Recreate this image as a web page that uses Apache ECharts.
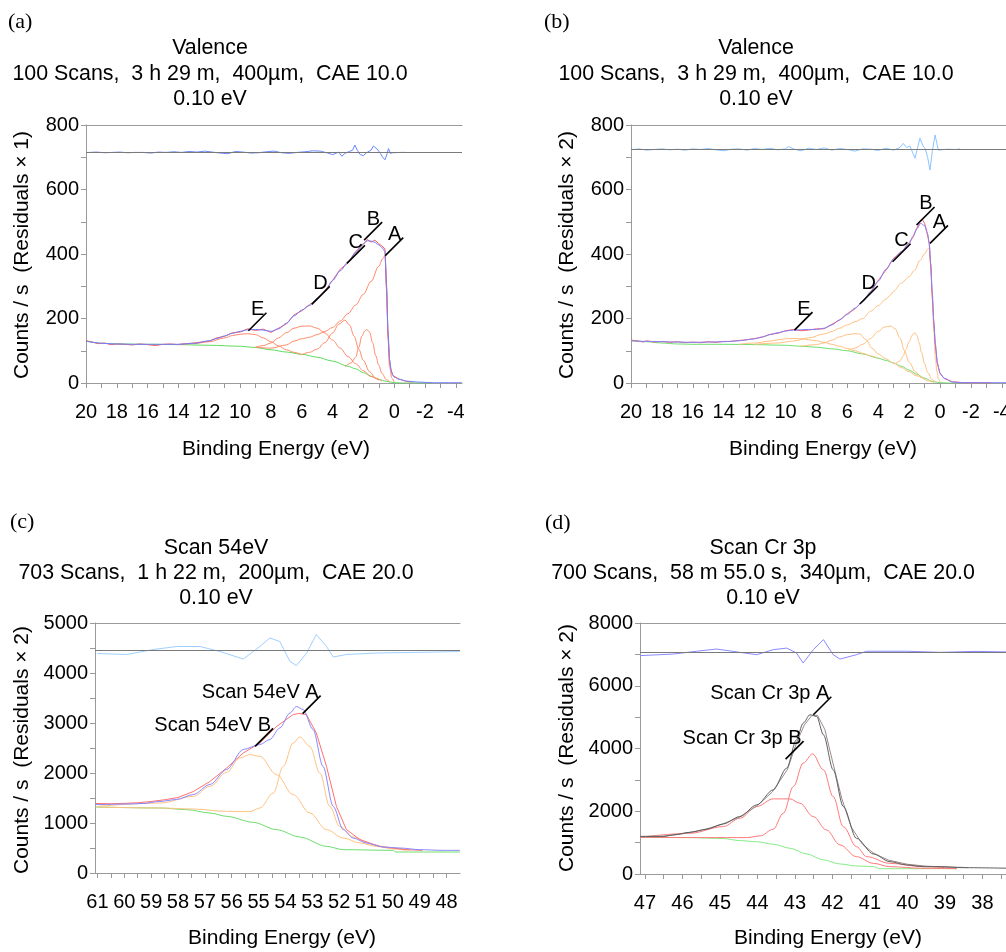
<!DOCTYPE html>
<html><head><meta charset="utf-8">
<script src="https://cdn.jsdelivr.net/npm/echarts@6/dist/echarts.min.js"></script>
<style>html,body{margin:0;padding:0;background:#fff}#c{width:1006px;height:952px}</style>
</head><body><div id="c"></div>
<script>
// ---------- tick values / labels ----------
const abTickValues = [20,19,18,17,16,15,14,13,12,11,10,9,8,7,6,5,4,3,2,1,0,-1,-2,-3,-4];
const abTickLabels = [20,18,16,14,12,10,8,6,4,2,0,-2,-4];
const cTickValues = [61,60.5,60,59.5,59,58.5,58,57.5,57,56.5,56,55.5,55,54.5,54,53.5,53,52.5,52,51.5,51,50.5,50,49.5,49,48.5,48];
const cTickLabels = [61,60,59,58,57,56,55,54,53,52,51,50,49,48];
const dTickValues = [47,46.5,46,45.5,45,44.5,44,43.5,43,42.5,42,41.5,41,40.5,40,39.5,39,38.5,38,37.5];
const dTickLabels = [47,46,45,44,43,42,41,40,39,38];

// ---------- panel (a) ----------
const aEnvelope = [[20,130],[19.5,126],[19,123],[18,121],[17,120],[16,120],[15,120],[14,120],[13,123],[12,131],[11.5,138],[11,146],[10.5,154],[10,160],[9.5,165],[9,166],[8.5,164],[8,160],[7.5,168],[7,185],[6.5,208],[6,226],[5.5,240],[5,262],[4.5,283],[4,318],[3.5,348],[3,375],[2.5,405],[2,432],[1.75,441],[1.5,440],[1.25,436],[1,428],[0.8,420],[0.6,408],[0.5,300],[0.4,160],[0.3,72],[0.2,40],[0.1,25],[0,18],[-0.3,12],[-0.8,6],[-1.5,3],[-2.5,1],[-4.4,1]];
const aData = [[20,131],[19.6,127],[19.2,122],[18.8,124],[18.4,119],[18,121],[17.5,120],[17,118],[16.5,121],[16,119],[15.5,116],[15,120],[14.5,121],[14,119],[13.5,122],[13,124],[12.5,127],[12,130],[11.5,140],[11,145],[10.5,156],[10,158],[9.5,168],[9,163],[8.5,167],[8,157],[7.5,170],[7,183],[6.5,211],[6,224],[5.5,243],[5,258],[4.5,286],[4,318],[3.5,353],[3,372],[2.5,408],[2,430],[1.75,445],[1.5,437],[1.25,443],[1,432],[0.8,425],[0.6,416],[0.5,310],[0.4,150],[0.3,68],[0.2,40],[0.1,24],[0,18],[-0.3,12],[-0.8,5],[-1.2,3]];
const aBackground = [[20,130],[19,123],[18,121],[16,120],[14,119],[12,117],[10,114],[9,110],[8,103],[7,96],[6,89],[5,80],[4,68],[3,52],[2.5,44],[2,32],[1.5,21],[1,11],[0.5,5],[0,1],[-0.5,0],[-2.4,0]];
const aCompA = [[9,111],[8,108],[7,118],[6.5,130],[6,137],[5.5,142],[5,150],[4.5,160],[4,172],[3.5,192],[3,215],[2.5,242],[2,275],[1.5,315],[1,362],[0.75,385],[0.6,395],[0.5,290],[0.4,140],[0.3,50],[0.15,15],[0,3]];
const aCompB = [[3.2,50],[2.8,62],[2.5,80],[2.3,110],[2.1,145],[1.9,162],[1.78,166],[1.6,158],[1.4,125],[1.2,85],[1,55],[0.8,30],[0.5,10],[0.3,4]];
const aCompC = [[6,88],[5.5,95],[5,105],[4.5,125],[4,155],[3.6,182],[3.2,195],[2.9,180],[2.6,145],[2.3,105],[2,70],[1.6,35],[1.2,15],[0.8,6]];
const aCompD = [[9,111],[8.5,116],[8,124],[7.5,140],[7,156],[6.5,170],[6,176],[5.5,177],[5,170],[4.5,155],[4,133],[3.5,108],[3,82],[2.5,60],[2,38],[1.5,20],[1,9]];
const aCompE = [[14,120],[13,122],[12,128],[11,140],[10.5,147],[10,151],[9.5,153],[9,150],[8.5,140],[8,128],[7.5,115],[7,103],[6.5,95],[6,88]];
const aResidual = [[19.8,715],[19.3,716],[18.8,714],[18.3,715],[17.8,716],[17.3,714],[16.8,715],[16.3,715],[15.8,713],[15.3,716],[14.8,715],[14.3,717],[13.8,715],[13.3,718],[12.8,716],[12.3,719],[11.8,716],[11.3,713],[10.8,711],[10.3,718],[9.8,716],[9.3,713],[8.8,714],[8.3,717],[7.8,719],[7.3,714],[6.8,712],[6.3,715],[5.8,717],[5.3,720],[4.8,719],[4.3,713],[4.0,708],[3.6,716],[3.4,703],[3.2,712],[2.9,718],[2.7,722],[2.55,738],[2.4,722],[2.2,708],[2.0,705],[1.8,714],[1.5,722],[1.35,735],[1.23,740],[1.1,725],[0.9,712],[0.75,700],[0.6,692],[0.45,712],[0.37,727],[0.25,712],[0.1,714],[-0.4,715],[-0.8,715]];
const aResidualZero = 714;
const aLabels = [['A',0.58,395],['B',1.95,443],['C',3.07,371],['D',5.35,244],['E',9.46,162]];

// ---------- panel (b) ----------
const bEnvelope = [[20,131],[19,129],[18,128],[17,127],[16,126],[15,127],[14,128],[13,131],[12,137],[11.5,143],[11,150],[10.5,156],[10,161],[9.5,164],[9,165],[8.5,166],[8,166],[7.5,170],[7,180],[6.5,196],[6,213],[5.5,232],[5,252],[4.5,283],[4,316],[3.5,352],[3,385],[2.5,408],[2,432],[1.75,455],[1.5,478],[1.25,495],[1,488],[0.8,462],[0.7,435],[0.6,370],[0.5,279],[0.4,190],[0.3,120],[0.17,62],[0,30],[-0.27,15],[-0.8,3],[-1.5,1],[-4.4,1]];
const bData = [[20,133],[19.5,130],[19.2,127],[19,131],[18.5,127],[18,129],[17.5,126],[17,128],[16.5,125],[16,127],[15.5,125],[15,128],[14.5,126],[14,129],[13.5,129],[13,132],[12.5,134],[12,138],[11.5,142],[11,151],[10.5,154],[10,162],[9.5,166],[9,162],[8.5,164],[8,168],[7.5,168],[7,182],[6.5,195],[6,215],[5.5,230],[5,254],[4.5,281],[4,318],[3.5,350],[3,387],[2.5,406],[2,435],[1.75,452],[1.5,480],[1.3,500],[1.15,508],[1,495],[0.85,470],[0.7,432],[0.6,360],[0.5,270],[0.4,185],[0.3,115],[0.17,60],[0,30],[-0.27,14],[-0.8,4],[-1.5,1],[-3.3,1]];
const bBackground = [[20,131],[19,128],[18,124],[17,121],[16,120],[14,120],[12,119],[10,117],[9,114],[8,111],[7,106],[6,100],[5,90],[4,77],[3.5,70],[3,62],[2.5,52],[2,40],[1.5,27],[1,15],[0.5,5],[0,1],[-0.5,0],[-1.2,0]];
const bCompA = [[12,120],[10.5,124],[9.5,130],[8.5,140],[7.5,152],[7,160],[6.5,170],[6,180],[5.5,190],[5,200],[4.5,222],[4,240],[3.5,260],[3.2,273],[3,285],[2.5,310],[2,330],[1.64,350],[1.3,380],[1,400],[0.8,415],[0.7,418],[0.6,360],[0.5,260],[0.4,160],[0.3,80],[0.2,35],[0.1,12],[0,3]];
const bCompB = [[2.9,60],[2.6,68],[2.4,82],[2.2,105],[2,128],[1.8,148],[1.64,156],[1.5,148],[1.35,125],[1.2,95],[1,60],[0.8,32],[0.5,10],[0.3,3]];
const bCompC = [[6,100],[5.5,108],[5,120],[4.5,138],[4,160],[3.6,173],[3.2,177],[2.9,168],[2.6,140],[2.3,100],[2,65],[1.6,35],[1.2,17],[0.8,7],[0.4,2]];
const bCompD = [[9,114],[8,119],[7.5,124],[7,133],[6.5,143],[6,150],[5.5,153],[5.2,152],[4.8,135],[4.4,108],[4,90],[3.5,75],[3,61],[2.5,48],[2,35],[1.5,22],[1,11]];
const bCompE = [[13,120],[12,124],[11,130],[10.5,134],[10,137],[9.5,138],[9,137],[8.5,134],[8,131],[7.5,126],[7,120],[6.5,114],[6,107],[5.5,100],[5,92],[4.5,84],[4,77]];
const bResidual = [[20,723],[19.5,726],[19,722],[18.5,724],[18,726],[17.5,723],[17,725],[16.5,722],[16,726],[15.5,724],[15,727],[14.5,723],[14,720],[13.5,725],[13,726],[12.5,722],[12,727],[11.5,724],[11,728],[10.5,723],[10,726],[9.8,733],[9.5,726],[9,720],[8.5,728],[8,724],[7.5,729],[7,722],[6.5,727],[6,724],[5.5,719],[5,726],[4.5,725],[4,721],[3.5,728],[3,722],[2.6,730],[2.38,743],[2.15,730],[1.95,735],[1.75,712],[1.62,697],[1.45,730],[1.3,759],[1.1,735],[0.97,728],[0.8,700],[0.65,660],[0.5,718],[0.32,769],[0.2,742],[0.11,722],[0,724],[-0.5,725],[-1,724],[-1.3,726]];
const bResidualZero = 725;
const bLabels = [['A',0.65,433],['B',1.52,490],['C',3.07,376],['D',5.19,245],['E',9.42,164]];

// ---------- panel (c) ----------
const cEnvelope = [[61.09,1370],[60.9,1370],[59.9,1380],[59.3,1390],[58.7,1430],[58.05,1470],[57.43,1570],[56.81,1770],[56.19,2070],[55.57,2470],[54.95,2570],[54.58,2670],[54.21,2900],[53.83,3200],[53.59,3330],[53.34,3270],[52.97,2870],[52.6,2130],[52.22,1330],[51.85,870],[51.48,700],[50.98,600],[50.36,520],[49.74,500],[49.0,467],[48.13,453],[47.5,453]];
const cData = [[61.05,1390],[60.5,1385],[60,1392],[59.5,1405],[59,1430],[58.5,1465],[58,1510],[57.43,1630],[56.81,1830],[56.19,2100],[55.57,2400],[54.95,2600],[54.33,2930],[53.71,3170],[53.5,3190],[53.22,3170],[52.85,2800],[52.47,2130],[52.1,1330],[51.73,870],[51.23,670],[50.5,530],[49.5,467],[48.9,453]];
const cBackground = [[61.09,1320],[58.67,1300],[57.67,1267],[56.81,1200],[56.19,1133],[55.2,1013],[54.33,867],[53.46,720],[52.47,533],[51.85,467],[50,453],[49.9,420],[47.5,420]];
const cCompA = [[61.0,1320],[58.67,1300],[57.43,1280],[56.19,1233],[55.33,1227],[54.95,1300],[54.45,1600],[54.08,2133],[53.71,2600],[53.46,2720],[53.09,2533],[52.72,2000],[52.35,1333],[51.98,933],[51.48,720],[50.74,567],[49.99,480],[49.5,453]];
const cCompB = [[61.0,1333],[58.67,1400],[57.43,1533],[56.81,1733],[56.19,2013],[55.7,2300],[55.33,2367],[54.95,2333],[54.33,1967],[53.71,1567],[53.09,1200],[52.47,867],[51.85,700],[51.23,600],[50.61,533],[49.99,500],[49.37,453]];
const cResidual = [[61.0,4390],[59.91,4370],[58.92,4470],[58.05,4530],[57.18,4530],[56.44,4430],[55.57,4280],[54.95,4530],[54.58,4700],[54.21,4630],[53.83,4230],[53.59,4150],[53.21,4400],[52.85,4770],[52.47,4530],[52.22,4320],[51.73,4370],[50.61,4400],[49.37,4410],[47.51,4430]];
const cResidualZero = 4453;
const cLabels = [['Scan 54eV A',53.36,3187],['Scan 54eV B',55.13,2533]];

// ---------- panel (d) ----------
const dEnvelope = [[47.13,1192],[46.51,1192],[46.24,1245],[45.8,1330],[45.36,1426],[44.91,1596],[44.47,1830],[44.02,2202],[43.58,2681],[43.22,3373],[42.96,4277],[42.78,4809],[42.6,5075],[42.42,5022],[42.24,4437],[41.98,3320],[41.71,2149],[41.36,1138],[40.91,638],[40.47,394],[40.02,287],[39.58,234],[39.13,234],[38.51,202],[37.2,181]];
const dData = [[47.13,1200],[46.5,1210],[46,1280],[45.5,1390],[45,1560],[44.5,1800],[44,2180],[43.6,2620],[43.2,3330],[42.95,4200],[42.75,4750],[42.55,5050],[42.4,5060],[42.2,4600],[42,3600],[41.75,2400],[41.5,1500],[41.2,950],[40.9,660],[40.5,440],[40,310],[39.5,250],[39,225],[38.5,210],[38.4,200]];
const dBackground = [[47.13,1170],[45.8,1160],[44.91,1130],[44.47,1065],[44.02,1030],[43.58,950],[43.13,820],[42.69,640],[42.24,450],[41.8,320],[41.36,255],[40.91,235],[40.73,170],[38.69,170]];
const dCompA = [[47.13,1170],[45.36,1160],[44.29,1160],[43.93,1213],[43.58,1426],[43.31,1936],[43.04,2788],[42.78,3532],[42.53,3830],[42.24,3320],[41.98,2468],[41.71,1511],[41.36,872],[41.09,553],[40.47,340],[39.58,234],[38.69,170]];
const dCompB = [[47.13,1170],[45.8,1298],[44.91,1511],[44.47,1777],[44.02,2149],[43.58,2394],[43.13,2394],[42.87,2256],[42.51,1830],[42.16,1404],[41.8,926],[41.36,553],[40.91,340],[40.47,234],[39.58,181],[38.69,170]];
const dResidual = [[47.13,6960],[46.24,7010],[45.62,7100],[45.09,7170],[44.47,7065],[44.02,6990],[43.58,7150],[43.22,7200],[42.96,7045],[42.78,6725],[42.51,7150],[42.24,7470],[41.98,6990],[41.8,6850],[41.36,6990],[41.09,7100],[40.02,7100],[39.13,7065],[38.2,7095],[37.2,7075]];
const dResidualZero = 7065;
const dLabels = [['Scan Cr 3p A',42.51,5075],['Scan Cr 3p B',43.25,3660]];

// ---------- titles ----------
const aTitle = ['Valence','100 Scans,  3 h 29 m,  400µm,  CAE 10.0','0.10 eV'];
const bTitle = ['Valence','100 Scans,  3 h 29 m,  400µm,  CAE 10.0','0.10 eV'];
const cTitle = ['Scan 54eV','703 Scans,  1 h 22 m,  200µm,  CAE 20.0','0.10 eV'];
const dTitle = ['Scan Cr 3p','700 Scans,  58 m 55.0 s,  340µm,  CAE 20.0','0.10 eV'];

// ---------- build ----------
const FONT = '"Liberation Sans", Arial, sans-serif';
const SERIF = '"Liberation Serif", "Times New Roman", serif';
const AX = '#9a9a9a';

const panels = [
  {letter:'(a)', title:aTitle, yName:'Counts / s  (Residuals × 1)', grid:{left:86,top:125,width:376,height:258},
   xmin:-4.4, xmax:20, ymax:800, yint:200, ticks:abTickValues, labels:abTickLabels,
   env:aEnvelope, data:aData, bg:aBackground, comps:[aCompA,aCompB,aCompC,aCompD,aCompE], res:aResidual, zero:aResidualZero, ann:aLabels,
   col:{env:'#7080ff', data:'#ff5a5a', comp:'#ff8a6a', bg:'#5ddc5d', res:'#6a88ff'},
   letterPos:[8,22], titleX:210, titleY:[48,74,99], yNamePos:[22,255], xNamePos:[276,449]},
  {letter:'(b)', title:bTitle, yName:'Counts / s  (Residuals × 2)', grid:{left:631,top:125,width:377,height:258},
   xmin:-4.4, xmax:20, ymax:800, yint:200, ticks:abTickValues, labels:abTickLabels,
   env:bEnvelope, data:bData, bg:bBackground, comps:[bCompA,bCompB,bCompC,bCompD,bCompE], res:bResidual, zero:bResidualZero, ann:bLabels,
   col:{env:'#8080ff', data:'#ff6060', comp:'#ffbf80', bg:'#6ede6e', res:'#8cc4ff'},
   letterPos:[544,22], titleX:756, titleY:[48,74,99], yNamePos:[567,255], xNamePos:[823,449]},
  {letter:'(c)', title:cTitle, yName:'Counts / s  (Residuals × 2)', grid:{left:95,top:623,width:365,height:250},
   xmin:47.5, xmax:61.09, ymax:5000, yint:1000, ticks:cTickValues, labels:cTickLabels,
   env:cEnvelope, data:cData, bg:cBackground, comps:[cCompA,cCompB], res:cResidual, zero:cResidualZero, ann:cLabels,
   col:{env:'#8888ff', data:'#ff7070', comp:'#ffc283', bg:'#6ede6e', res:'#9fd0ff'},
   letterPos:[10,522], titleX:216, titleY:[548,573,598], yNamePos:[22,750], xNamePos:[282,938]},
  {letter:'(d)', title:dTitle, yName:'Counts / s  (Residuals × 2)', grid:{left:640,top:623,width:372.5,height:251},
   xmin:37.2, xmax:47.13, ymax:8000, yint:2000, ticks:dTickValues, labels:dTickLabels,
   env:dEnvelope, data:dData, bg:dBackground, comps:[dCompA,dCompB], res:dResidual, zero:dResidualZero, ann:dLabels,
   col:{env:'#5e5e5e', data:'#9a8a8a', comp:'#ff7a7a', bg:'#88ec88', res:'#8a8aff'},
   letterPos:[545,523], titleX:763, titleY:[548,573,598], yNamePos:[567,748], xNamePos:[828,938]}
];

const option = {animation:false, backgroundColor:'#fff', grid:[], xAxis:[], yAxis:[], series:[], graphic:[]};

function lineS(data, color, xi, yi, extra) {
  return Object.assign({type:'line', data, xAxisIndex:xi, yAxisIndex:yi, symbol:'none', silent:true,
    lineStyle:{color, width:1}, itemStyle:{color}, emphasis:{disabled:true}}, extra||{});
}

panels.forEach((p, i) => {
  option.grid.push(Object.assign({}, p.grid, {containLabel:false, outerBoundsMode:'none'}));
  const xb = 2*i;
  option.xAxis.push({type:'value', gridIndex:i, inverse:true, min:p.xmin, max:p.xmax, position:'bottom',
    axisLine:{show:true, onZero:false, lineStyle:{color:AX, width:1}},
    axisTick:{show:true, length:5, customValues:p.ticks, lineStyle:{color:AX}},
    axisLabel:{show:true, customValues:p.labels, margin:19, color:'#000', fontSize:20, fontFamily:FONT, formatter:v=>String(v)},
    splitLine:{show:false}});
  option.xAxis.push({type:'value', gridIndex:i, inverse:true, min:p.xmin, max:p.xmax, position:'top',
    axisLine:{show:true, onZero:false, lineStyle:{color:AX, width:1}}, axisTick:{show:false}, axisLabel:{show:false}, splitLine:{show:false}});
  option.yAxis.push({type:'value', gridIndex:i, min:0, max:p.ymax, interval:p.yint,
    axisLine:{show:true, onZero:false, lineStyle:{color:AX, width:1}},
    axisTick:{show:true, length:5, lineStyle:{color:AX}},
    minorTick:{show:true, splitNumber:2, length:5, lineStyle:{color:AX}},
    axisLabel:{margin:7, color:'#000', fontSize:20, fontFamily:FONT, formatter:v=>String(v)},
    splitLine:{show:false}});
  option.series.push(lineS(p.res, p.col.res, xb, i, {markLine:{silent:true, symbol:['none','none'], label:{show:false},
    lineStyle:{color:'#7a7a7a', width:1, type:'solid'}, data:[{yAxis:p.zero}]}}));
  option.series.push(lineS(p.bg, p.col.bg, xb, i, {smooth:0.3, smoothMonotone:'x'}));
  p.comps.forEach(c => option.series.push(lineS(c, p.col.comp, xb, i, {smooth:0.35, smoothMonotone:'x'})));
  option.series.push(lineS(p.data, p.col.data, xb, i));
  option.series.push(lineS(p.env, p.col.env, xb, i, {smooth:0.3, smoothMonotone:'x'}));
  const ann = p.ann;
  option.series.push({type:'custom', xAxisIndex:xb, yAxisIndex:i, silent:true, z:10,
    data: ann.map(a => [a[1], a[2]]),
    renderItem: (params, api) => {
      const pt = api.coord([api.value(0), api.value(1)]);
      return {type:'group', children:[
        {type:'line', shape:{x1:pt[0], y1:pt[1], x2:pt[0]+18, y2:pt[1]-18}, style:{stroke:'#000', lineWidth:1.6}},
        {type:'text', x:pt[0]+16, y:pt[1]-21, style:{text:ann[params.dataIndex][0], fill:'#000', fontSize:20, fontFamily:FONT, align:'right', verticalAlign:'middle'}}
      ]};
    }});
  option.graphic.push({type:'text', x:p.letterPos[0], y:p.letterPos[1], style:{text:p.letter, fill:'#000', fontSize:22, fontFamily:SERIF, align:'left', verticalAlign:'middle'}});
  p.title.forEach((t, k) => option.graphic.push({type:'text', x:p.titleX, y:p.titleY[k], style:{text:t, fill:'#000', fontSize:21.4, fontFamily:FONT, align:'center', verticalAlign:'middle'}}));
  option.graphic.push({type:'text', x:p.yNamePos[0], y:p.yNamePos[1], rotation:Math.PI/2, style:{text:p.yName, fill:'#000', fontSize:21, fontFamily:FONT, align:'center', verticalAlign:'middle'}});
  option.graphic.push({type:'text', x:p.xNamePos[0], y:p.xNamePos[1], style:{text:'Binding Energy (eV)', fill:'#000', fontSize:21, fontFamily:FONT, align:'center', verticalAlign:'middle'}});
});

const chart = echarts.init(document.getElementById('c'), null, {renderer:'canvas'});
chart.setOption(option);
</script></body></html>
